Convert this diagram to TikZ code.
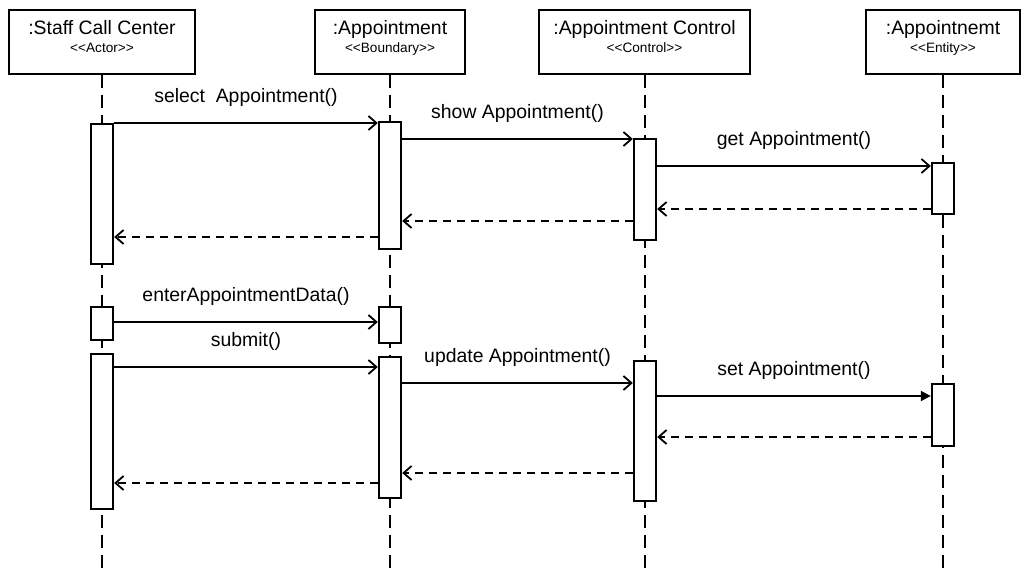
\documentclass[tikz,border=0pt]{standalone}
\usepackage{fontspec}
\setmainfont{Liberation Sans}
\usetikzlibrary{arrows.meta, positioning}
\tikzset{
  font=\fontsize{9.7}{11.6}\selectfont,
  % Set arrowhead
  >={Straight Barb[length=4pt, width=7pt]},
  % Object head
  head/.style={draw, line width=1.2pt, fill=white, shape=rectangle,
    minimum height=32pt, inner sep=0pt},
  % Lifeline
  life/.style={line width=1pt, dash pattern=on 6.5pt off 3.5pt},
  % Activation bar
  act/.style={draw, line width=1.2pt, fill=white, shape=rectangle,
    minimum width=11pt, inner sep=0pt, anchor=north},
  % Messages
  call/.style={->, line width=0.9pt},
  scall/.style={-{Triangle[length=5pt, width=5pt]}, line width=0.9pt},
  ret/.style={->, line width=0.9pt, dash pattern=on 4pt off 3pt},
  msg/.style={midway, above=8pt, inner sep=0pt},
}
\newcommand{\stereofont}{\fontsize{6.8}{8}\selectfont}
\newcommand{\headtext}[2]{\raisebox{1.5pt}[\height][\depth]{%
    \begin{tabular}{@{}c@{}}#1\\[-2.8pt]{\stereofont <\kern0pt<#2>\kern0pt>}\end{tabular}}}

\begin{document}
\begin{tikzpicture}[x=0.5pt, y=-0.5pt]
  \useasboundingbox (0,0) rectangle (1021,573);

  % object heads
  \node[head, minimum width=93pt] (sc) at (102,42) {\headtext{:Staff Call Center}{Actor}};
  \node[head, minimum width=75pt] (ap) at (390,42) {\headtext{:Appointment}{Boundary}};
  \node[head, minimum width=105.5pt] (ac) at (644.5,42) {\headtext{:Appointment Control}{Control}};
  \node[head, minimum width=77pt] (en) at (943,42) {\headtext{:Appointnemt}{Entity}};

  % lifelines
  \coordinate (bot) at (0,573);
  \foreach \o in {sc,ap,ac,en}
    \draw[life] (\o.south) -- (\o.south |- bot);

  % activation bars
  \node[act, minimum height=70pt] (sc1) at (102,123) {};
  \node[act, minimum height=63.5pt] (ap1) at (390,121) {};
  \node[act, minimum height=50.5pt] (ac1) at (645,138) {};
  \node[act, minimum height=25.5pt] (en1) at (943,162) {};
  \node[act, minimum height=16.5pt] (sc2) at (102,306) {};
  \node[act, minimum height=18pt] (ap2) at (390,306) {};
  \node[act, minimum height=77.5pt] (sc3) at (102,353) {};
  \node[act, minimum height=70.5pt] (ap3) at (390,356) {};
  \node[act, minimum height=70pt] (ac2) at (645,360) {};
  \node[act, minimum height=31pt] (en2) at (943,383) {};

  % message levels
  \foreach \n/\y in {m1/123, m2/139, m3/166, r1/209, r2/221, r3/237,
    m4/322, m5/367, m6/383, m7/396, r4/437, r5/473, r6/483}
    \coordinate (\n) at (0,\y);

  \draw[call] (sc1.east |- m1) -- node[msg] {select\ \ Appointment()} (ap1.west |- m1);
  \draw[call] (ap1.east |- m2) -- node[msg] {show Appointment()} (ac1.west |- m2);
  \draw[call] (ac1.east |- m3) -- node[msg] {get Appointment()} (en1.west |- m3);
  \draw[ret] (en1.west |- r1) -- (ac1.east |- r1);
  \draw[ret] (ac1.west |- r2) -- (ap1.east |- r2);
  \draw[ret] (ap1.west |- r3) -- (sc1.east |- r3);

  \draw[call] (sc2.east |- m4) -- node[msg] {enterAppointmentData()} (ap2.west |- m4);
  \draw[call] (sc3.east |- m5) -- node[msg] {submit()} (ap3.west |- m5);
  \draw[call] (ap3.east |- m6) -- node[msg] {update Appointment()} (ac2.west |- m6);
  \draw[scall] (ac2.east |- m7) -- node[msg] {set Appointment()} (en2.west |- m7);
  \draw[ret] (en2.west |- r4) -- (ac2.east |- r4);
  \draw[ret] (ac2.west |- r5) -- (ap3.east |- r5);
  \draw[ret] (ap3.west |- r6) -- (sc3.east |- r6);
\end{tikzpicture}
\end{document}
